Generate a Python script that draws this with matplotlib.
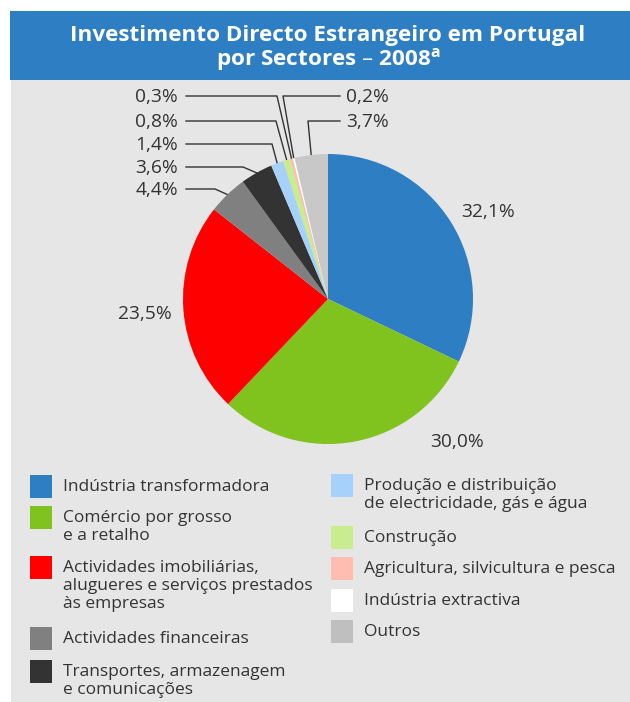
import matplotlib.pyplot as plt
from matplotlib.patches import Rectangle
import numpy as np

plt.rcParams['font.family'] = ['Open Sans', 'DejaVu Sans']

sectors = ['Indústria transformadora', 'Comércio por grosso\ne a retalho',
           'Actividades imobiliárias,\nalugueres e serviços prestados\nàs empresas',
           'Actividades financeiras', 'Transportes, armazenagem\ne comunicações',
           'Produção e distribuição\nde electricidade, gás e água', 'Construção',
           'Agricultura, silvicultura e pesca', 'Indústria extractiva', 'Outros']
values = [32.1, 30.0, 23.5, 4.4, 3.6, 1.4, 0.8, 0.3, 0.2, 3.7]
colors = ['#2e7ec4', '#80c21e', '#ff0000', '#808080', '#333333',
          '#a6d1fb', '#c8ec8e', '#ffbcb0', '#ffffff', '#c8c8c8']
legend_colors = colors[:9] + ['#bfbfbf']

W, H = 630, 702
fig = plt.figure(figsize=(W / 100, H / 100), dpi=100)

# overlay in pixel coordinates (y down)
bg = fig.add_axes([0, 0, 1, 1])
bg.set_xlim(0, W)
bg.set_ylim(H, 0)
bg.axis('off')
bg.add_patch(Rectangle((11, 80), W - 11, H - 80, color='#e6e6e6', lw=0))
bg.add_patch(Rectangle((10, 11), W - 10, 69, color='#2e7ec4', lw=0))
bg.text(328, 35, 'Investimento Directo Estrangeiro em Portugal', color='white',
        fontsize=16.2, fontweight='bold', ha='center', va='center')
bg.text(328, 60, 'por Sectores – 2008$^{\\mathregular{a}}$', color='white',
        fontsize=16.2, fontweight='bold', ha='center', va='center')

# pie
cx, cy, r = 328, 299, 145
pax = fig.add_axes([(cx - r) / W, (H - cy - r) / H, 2 * r / W, 2 * r / H])
pax.pie(values, colors=colors, startangle=90, counterclock=False, radius=1,
        wedgeprops=dict(linewidth=0))
pax.set_xlim(-1, 1)
pax.set_ylim(-1, 1)
pax.axis('off')

txt = '#333333'
fmt = lambda v: f'{v:.1f}'.replace('.', ',') + '%'
cum = np.cumsum(values) - np.array(values) / 2
ang = np.radians(90 - 360 * cum / 100)
ax_ = cx + r * np.cos(ang)
ay_ = cy - r * np.sin(ang)

# big labels
big_pos = {0: (461, 212, 'left'), 1: (430, 442, 'left'), 2: (172, 314, 'right')}
for i, (x, y, ha) in big_pos.items():
    bg.text(x, y, fmt(values[i]), fontsize=13.8, color=txt, ha=ha, va='center')

# small labels with leader lines
left = {7: (96, 277), 6: (121, 276), 5: (144, 272), 4: (167, 243), 3: (189, 215)}
for i, (y, ex) in left.items():
    bg.plot([186, ex, ax_[i]], [y, y, ay_[i]], color=txt, lw=1)
    bg.text(178, y + 1, fmt(values[i]), fontsize=13.8, color=txt, ha='right', va='center')
right = {8: (96, 283), 9: (121, 308)}
for i, (y, ex) in right.items():
    bg.plot([340, ex, ax_[i]], [y, y, ay_[i]], color=txt, lw=1)
    bg.text(346, y + 1, fmt(values[i]), fontsize=13.8, color=txt, ha='left', va='center')

# legend
rows = [(30, 486), (30, 517), (30, 567), (30, 638), (30, 671),
        (331, 485), (331, 537), (331, 568), (331, 600), (331, 631)]
for i, (x, y) in enumerate(rows):
    bg.add_patch(Rectangle((x, y - 11.5), 22, 23, color=legend_colors[i], lw=0))
    bg.text(x + 33, y - 7, sectors[i], fontsize=12.5, color=txt, ha='left', va='top',
            linespacing=1.17)

fig.savefig('out.png', dpi=100)
